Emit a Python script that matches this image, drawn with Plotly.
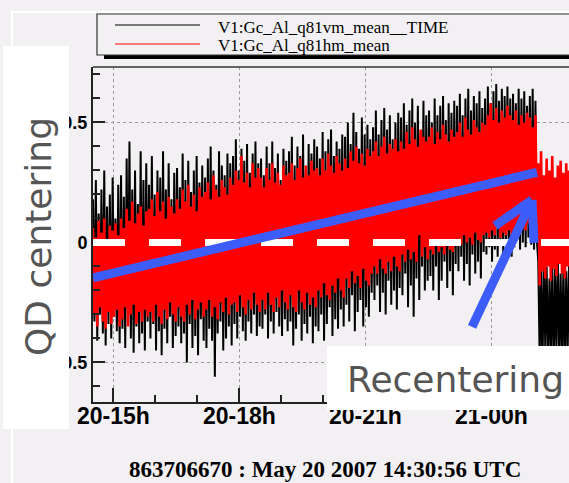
import plotly.graph_objects as go
import pandas as pd

# ---------------- data ----------------
START = pd.Timestamp("2007-05-20 14:31:00")
STEP_MIN = 4  # one local max / local min pair every 4 minutes

# V1:Gc_Al_q81vm_mean__TIME (black): local maxima
black_hi = [0.18, 0.26, 0.12, 0.22, 0.30, 0.15, 0.20, 0.27, 0.10, 0.24,
            0.28, 0.19, 0.35, 0.42, 0.22, 0.30, 0.16, 0.38, 0.26, 0.33,
            0.24, 0.36, 0.20, 0.30, 0.27, 0.38, 0.22, 0.33, 0.18, 0.29,
            0.31, 0.23, 0.37, 0.26, 0.34, 0.21, 0.30, 0.36, 0.25, 0.32,
            0.27, 0.35, 0.40, 0.30, 0.24, 0.38, 0.32, 0.28, 0.37, 0.33,
            0.36, 0.43, 0.30, 0.39, 0.34, 0.41, 0.29, 0.37, 0.42, 0.33,
            0.35, 0.28, 0.40, 0.33, 0.42, 0.31, 0.37, 0.26, 0.39, 0.34,
            0.38, 0.44, 0.32, 0.40, 0.36, 0.45, 0.30, 0.41, 0.37, 0.43,
            0.40, 0.35, 0.46, 0.38, 0.43, 0.47, 0.36, 0.42, 0.39, 0.45,
            0.44, 0.50, 0.41, 0.54, 0.46, 0.39, 0.52, 0.45, 0.49, 0.43,
            0.48, 0.55, 0.45, 0.51, 0.56, 0.47, 0.53, 0.43, 0.50, 0.54,
            0.52, 0.58, 0.49, 0.55, 0.60, 0.50, 0.57, 0.46, 0.59, 0.53,
            0.55, 0.50, 0.60, 0.53, 0.57, 0.61, 0.51, 0.58, 0.54, 0.59,
            0.57, 0.62, 0.53, 0.60, 0.64, 0.55, 0.61, 0.58, 0.63, 0.56,
            0.60, 0.65, 0.58, 0.63, 0.66, 0.59, 0.64, 0.61, 0.65, 0.60,
            0.62, 0.58, 0.64, 0.60, 0.63, 0.57, 0.61, 0.64, 0.59,
            -0.08, -0.12, -0.05, -0.10, -0.15, -0.07, -0.11, -0.06, -0.13, -0.09, -0.12, -0.08]
# black: local minima
black_lo = [-0.33, -0.41, -0.30, -0.38, -0.43, -0.34, -0.40, -0.31, -0.37, -0.42,
            -0.36, -0.44, -0.32, -0.40, -0.46, -0.35, -0.42, -0.38, -0.45, -0.33,
            -0.40, -0.34, -0.45, -0.37, -0.47, -0.36, -0.42, -0.31, -0.44, -0.39,
            -0.35, -0.42, -0.38, -0.50, -0.34, -0.44, -0.39, -0.47, -0.32, -0.41,
            -0.44, -0.36, -0.41, -0.56, -0.38, -0.33, -0.45, -0.40, -0.35, -0.43,
            -0.34, -0.40, -0.31, -0.37, -0.41, -0.33, -0.38, -0.30, -0.39, -0.35,
            -0.36, -0.30, -0.40, -0.33, -0.38, -0.29, -0.35, -0.39, -0.32, -0.37,
            -0.33, -0.43, -0.36, -0.30, -0.41, -0.34, -0.38, -0.31, -0.42, -0.35,
            -0.37, -0.30, -0.41, -0.34, -0.27, -0.39, -0.32, -0.36, -0.28, -0.35,
            -0.26, -0.33, -0.22, -0.37, -0.29, -0.24, -0.35, -0.27, -0.31, -0.21,
            -0.24, -0.18, -0.29, -0.21, -0.30, -0.16, -0.26, -0.20, -0.28, -0.19,
            -0.22, -0.13, -0.27, -0.18, -0.31, -0.15, -0.24, -0.10, -0.20, -0.16,
            -0.14, -0.20, -0.10, -0.24, -0.16, -0.08, -0.19, -0.12, -0.22, -0.09,
            -0.12, -0.06, -0.16, -0.09, -0.18, -0.05, -0.13, -0.08, -0.15, -0.04,
            -0.05, -0.02, -0.08, -0.03, -0.06, 0.00, -0.07, -0.01, -0.04, -0.06,
            -0.02, 0.01, -0.03, 0.00, -0.02, 0.02, -0.01, -0.03, 0.01,
            -0.48, -0.55, -0.44, -0.52, -0.47, -0.56, -0.45, -0.51, -0.49, -0.54, -0.46, -0.50]

# V1:Gc_Al_q81hm_mean (red): local maxima
red_hi = [0.06, 0.02, 0.09, 0.04, 0.10, 0.01, 0.07, 0.05, 0.08, 0.03,
          0.10, 0.06, 0.14, 0.09, 0.17, 0.08, 0.12, 0.15, 0.07, 0.13,
          0.14, 0.18, 0.11, 0.21, 0.13, 0.17, 0.10, 0.19, 0.15, 0.12,
          0.18, 0.14, 0.22, 0.17, 0.24, 0.15, 0.20, 0.13, 0.23, 0.19,
          0.21, 0.25, 0.18, 0.28, 0.22, 0.19, 0.26, 0.23, 0.20, 0.27,
          0.24, 0.30, 0.26, 0.36, 0.25, 0.29, 0.23, 0.33, 0.27, 0.31,
          0.27, 0.23, 0.31, 0.26, 0.33, 0.25, 0.29, 0.24, 0.32, 0.28,
          0.29, 0.33, 0.26, 0.31, 0.35, 0.27, 0.32, 0.28, 0.34, 0.30,
          0.31, 0.28, 0.35, 0.30, 0.37, 0.32, 0.29, 0.36, 0.33, 0.30,
          0.35, 0.31, 0.38, 0.34, 0.40, 0.33, 0.37, 0.32, 0.39, 0.36,
          0.38, 0.42, 0.36, 0.40, 0.44, 0.37, 0.41, 0.39, 0.43, 0.38,
          0.42, 0.39, 0.46, 0.41, 0.48, 0.43, 0.40, 0.47, 0.44, 0.42,
          0.44, 0.48, 0.41, 0.46, 0.43, 0.49, 0.45, 0.42, 0.47, 0.44,
          0.46, 0.50, 0.44, 0.52, 0.47, 0.45, 0.51, 0.48, 0.46, 0.50,
          0.49, 0.53, 0.58, 0.51, 0.56, 0.50, 0.55, 0.52, 0.57, 0.53,
          0.51, 0.55, 0.49, 0.53, 0.50, 0.54, 0.52, 0.48, 0.53,
          0.33, 0.38, 0.28, 0.35, 0.30, 0.36, 0.27, 0.32, 0.34, 0.29, 0.33, 0.30]
# red: local minima
red_lo = [-0.30, -0.35, -0.27, -0.33, -0.36, -0.29, -0.34, -0.31, -0.28, -0.35,
          -0.32, -0.27, -0.35, -0.30, -0.26, -0.34, -0.29, -0.33, -0.28, -0.31,
          -0.29, -0.33, -0.26, -0.31, -0.34, -0.28, -0.32, -0.25, -0.30, -0.33,
          -0.27, -0.31, -0.33, -0.26, -0.30, -0.24, -0.32, -0.28, -0.25, -0.31,
          -0.28, -0.24, -0.31, -0.27, -0.32, -0.25, -0.29, -0.23, -0.30, -0.26,
          -0.25, -0.29, -0.22, -0.27, -0.30, -0.24, -0.28, -0.21, -0.26, -0.29,
          -0.24, -0.28, -0.21, -0.26, -0.29, -0.23, -0.27, -0.20, -0.25, -0.28,
          -0.22, -0.27, -0.29, -0.20, -0.25, -0.28, -0.21, -0.26, -0.23, -0.27,
          -0.20, -0.23, -0.17, -0.22, -0.24, -0.18, -0.21, -0.15, -0.20, -0.23,
          -0.15, -0.19, -0.12, -0.17, -0.14, -0.19, -0.11, -0.16, -0.18, -0.13,
          -0.10, -0.13, -0.07, -0.11, -0.13, -0.08, -0.12, -0.06, -0.10, -0.12,
          -0.05, -0.08, -0.03, -0.07, -0.04, -0.08, 0.03, -0.06, -0.02, -0.07,
          -0.03, -0.05, 0.00, -0.04, -0.02, -0.05, 0.01, -0.03, -0.04, 0.00,
          0.01, -0.01, 0.03, 0.00, 0.02, -0.01, 0.04, 0.01, 0.00, 0.03,
          0.04, 0.02, 0.05, 0.03, 0.06, 0.02, 0.04, 0.03, 0.05, 0.02,
          0.05, 0.07, 0.04, 0.06, 0.05, 0.08, 0.04, 0.06, 0.05,
          -0.18, -0.12, -0.15, -0.10, -0.16, -0.11, -0.14, -0.09, -0.13, -0.15, -0.10, -0.12]

series_names = ["V1:Gc_Al_q81vm_mean__TIME", "V1:Gc_Al_q81hm_mean"]
series_colors = ["#000000", "#ff0000"]

x_range = ["2007-05-20 14:30:56", "2007-05-21 01:50:56"]
y_range = [-0.665, 0.731]
x_tick0 = "2007-05-20 15:00:00"

# hand-drawn overlays (data coordinates)
trend_t = ["2007-05-20 14:30:56", "2007-05-21 01:05:13"]
trend_v = [-0.148, 0.292]
arrow_shaft_t = ["2007-05-20 23:32:22", "2007-05-21 00:58:04"]
arrow_shaft_v = [-0.352, 0.177]
arrow_head_t = ["2007-05-21 00:05:13", "2007-05-21 00:58:04", "2007-05-21 01:00:56"]
arrow_head_v = [0.069, 0.177, -0.002]

footer = "863706670 : May 20 2007 14:30:56 UTC"

BG = "#f3f0f3"
BLUE = "#3d5dfb"

# ---------------- figure ----------------
W, H = 569, 483
L, R, T, B = 93, 0, 67, 81
PW, PH = W - L - R, H - T - B


def px(x):
    return (x - L) / PW


def py(y):
    return (H - B - y) / PH


def zigzag(hi, lo):
    xs, ys = [], []
    for k, (h, l) in enumerate(zip(hi, lo)):
        t = START + pd.Timedelta(minutes=STEP_MIN * k)
        xs += [t, t + pd.Timedelta(minutes=STEP_MIN / 2)]
        ys += [h, l]
    return xs, ys


fig = go.Figure()
for hi, lo, name, col, w in [(black_hi, black_lo, series_names[0], series_colors[0], 2.0),
                             (red_hi, red_lo, series_names[1], series_colors[1], 2.6)]:
    xs, ys = zigzag(hi, lo)
    fig.add_trace(go.Scatter(x=xs, y=ys, mode="lines", name=name,
                             line=dict(color=col, width=w), showlegend=False,
                             hoverinfo="skip"))

shapes = []
shapes.append(dict(type="line", xref="paper", yref="y", x0=0, x1=1, y0=0, y1=0,
                   line=dict(color="white", width=7, dash="32px,24px"), layer="above"))
shapes.append(dict(type="line", xref="x", yref="y", x0=trend_t[0], x1=trend_t[1],
                   y0=trend_v[0], y1=trend_v[1], line=dict(color=BLUE, width=9), layer="above"))
shapes.append(dict(type="line", xref="x", yref="y", x0=arrow_shaft_t[0], x1=arrow_shaft_t[1],
                   y0=arrow_shaft_v[0], y1=arrow_shaft_v[1], line=dict(color=BLUE, width=9),
                   layer="above"))
for i in (0, 2):
    shapes.append(dict(type="line", xref="x", yref="y", x0=arrow_head_t[i], x1=arrow_head_t[1],
                       y0=arrow_head_v[i], y1=arrow_head_v[1], line=dict(color=BLUE, width=9),
                       layer="above"))
shapes.append(dict(type="line", xref="paper", yref="paper", x0=0, x1=1, y0=1, y1=1,
                   line=dict(color="#333333", width=1.5), layer="above"))
shapes.append(dict(type="line", xref="paper", yref="paper", x0=px(10), x1=px(575), y0=py(12), y1=py(12),
                   line=dict(color="white", width=2), layer="above"))
shapes.append(dict(type="line", xref="paper", yref="paper", x0=px(12), x1=px(12), y0=py(12), y1=py(490),
                   line=dict(color="white", width=2), layer="above"))
shapes.append(dict(type="rect", xref="paper", yref="paper", x0=px(104), x1=px(580), y0=py(59), y1=py(20),
                   fillcolor="black", line=dict(width=0), layer="above"))
shapes.append(dict(type="rect", xref="paper", yref="paper", x0=px(97), x1=px(580), y0=py(55), y1=py(14),
                   fillcolor=BG, line=dict(color="#333333", width=1.2), layer="above"))
for yy, col in [(25, series_colors[0]), (44, series_colors[1])]:
    shapes.append(dict(type="line", xref="paper", yref="paper", x0=px(115), x1=px(200), y0=py(yy), y1=py(yy),
                       line=dict(color=col, width=1.2), layer="above"))
shapes.append(dict(type="rect", xref="paper", yref="paper", x0=px(3), x1=px(69), y0=py(429), y1=py(46),
                   fillcolor="white", line=dict(width=0), layer="above"))
shapes.append(dict(type="rect", xref="paper", yref="paper", x0=px(327), x1=px(580), y0=py(410), y1=py(346),
                   fillcolor="white", line=dict(width=0), layer="above"))

annotations = [
    dict(text=series_names[0], xref="paper", yref="paper", x=px(216), y=py(27), xanchor="left",
         yanchor="middle", showarrow=False, font=dict(family="Liberation Serif", size=17, color="black")),
    dict(text=series_names[1], xref="paper", yref="paper", x=px(216), y=py(45.5), xanchor="left",
         yanchor="middle", showarrow=False, font=dict(family="Liberation Serif", size=17, color="black")),
    dict(text="QD centering", xref="paper", yref="paper", x=px(38), y=py(237), xanchor="center",
         yanchor="middle", textangle=-90, showarrow=False,
         font=dict(family="DejaVu Sans", size=36, color="#555555")),
    dict(text="Recentering", xref="paper", yref="paper", x=px(455), y=py(379), xanchor="center",
         yanchor="middle", showarrow=False,
         font=dict(family="DejaVu Sans", size=36, color="#555555")),
    dict(text=footer, xref="paper", yref="paper", x=px(325), y=py(469), xanchor="center",
         yanchor="middle", showarrow=False,
         font=dict(family="Liberation Serif", size=23, color="black", weight="bold")),
]

fig.update_layout(
    width=W, height=H, margin=dict(l=L, r=R, t=T, b=B, pad=0),
    paper_bgcolor=BG, plot_bgcolor=BG,
    shapes=shapes, annotations=annotations, showlegend=False,
    xaxis=dict(type="date", range=x_range, tick0=x_tick0, dtick=3 * 3600 * 1000,
               tickformat="%d-%Hh", ticks="inside", ticklen=14, tickwidth=1.5, tickcolor="#222222",
               showline=True, linecolor="#222222", linewidth=2, ticklabelstandoff=-8,
               showgrid=True, gridcolor="#999999", griddash="dot", gridwidth=1,
               minor=dict(dtick=3600 * 1000, ticks="inside", ticklen=7, tickcolor="#222222",
                          tickwidth=1.5, showgrid=False),
               tickfont=dict(family="Liberation Sans", size=23, color="black", weight="bold"),
               zeroline=False, fixedrange=True),
    yaxis=dict(range=y_range, dtick=0.5, tick0=0, ticks="inside", ticklen=12, tickwidth=1.5,
               tickcolor="#222222", showline=True, linecolor="#222222", linewidth=2,
               showgrid=True, gridcolor="#999999", griddash="dot", gridwidth=1,
               minor=dict(dtick=0.1, ticks="inside", ticklen=7, tickcolor="#222222",
                          tickwidth=1.5, showgrid=False),
               tickfont=dict(family="Liberation Sans", size=18, color="black", weight="bold"),
               zeroline=False, fixedrange=True),
)

fig.write_html("out.html", config={"displayModeBar": False},
               post_script="document.body.style.margin='0';")
